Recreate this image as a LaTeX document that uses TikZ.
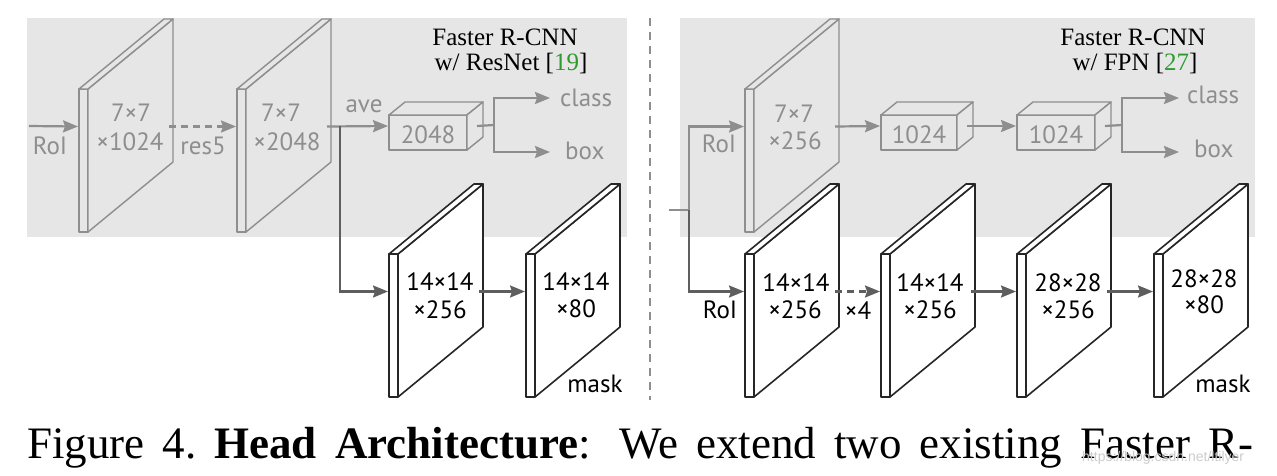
\documentclass[tikz,border=0pt]{standalone}
\usepackage{fontspec}
\setmainfont{Liberation Serif}
\newfontfamily\lblfont{PT Sans}
\newfontfamily\wmfont{Liberation Sans}
\usetikzlibrary{arrows.meta}
\definecolor{panel}{HTML}{E6E6E6}
\definecolor{lgray}{HTML}{8E8E8E}
\definecolor{dgray}{HTML}{5E5E5E}
\definecolor{citegreen}{HTML}{2E9A2E}
\definecolor{wmark}{HTML}{CCCCCC}
\tikzset{
  lbl/.style={font=\lblfont\fontsize{25}{25}\selectfont, inner sep=0pt, anchor=base},
  glbl/.style={lbl, text=lgray},
  klbl/.style={lbl, text=black},
  ttl/.style={font=\fontsize{25}{25}\selectfont, inner sep=0pt, anchor=base},
  gslab/.style={draw=lgray, line width=1.4pt, fill=panel, line join=round},
  wslab/.style={draw=black!85, line width=1.6pt, fill=white, line join=round},
  gbox/.style={draw=lgray, line width=1.4pt, fill=panel, line join=round},
  tip/.style={-{Stealth[length=15pt,width=12pt,inset=2pt]}},
  gline/.style={draw=lgray, line width=2.2pt},
  dline/.style={draw=dgray, line width=2.2pt},
  garrow/.style={gline, tip},
  darrow/.style={dline, tip},
  dash7/.style={dash pattern=on 7pt off 5pt},
  sepline/.style={draw=lgray, line width=1.3pt, dash pattern=on 8pt off 6pt},
}
\newcommand\slab[4]{%
  \path[#3] (#1,#2) rectangle ++(9,143);
  \path[#3] (#1+9,#2) -- ++(85,-70) -- ++(0,143) -- (#1+9,#2+143) -- cycle;
  \path[#3] (#1,#2) -- ++(85,-70) -- ++(9,0) -- (#1+9,#2) -- cycle;
  \coordinate (#4-in) at (#1-1,#2+37.5);
  \coordinate (#4-out) at (#1+90,#2+37.5);
}
\newcommand\cuboid[5]{%
  \path[gbox] (#1,#2) rectangle ++(#3,35);
  \path[gbox] (#1,#2) -- ++(16,-13) -- ++(#3,0) -- (#1+#3,#2) -- cycle;
  \path[gbox] (#1+#3,#2) -- ++(16,-13) -- ++(0,35) -- (#1+#3,#2+35) -- cycle;
  \node[glbl] (#5) at (#1+#3/2,#2+28) {#4};
  \coordinate (#5-in) at (#1-1,#2+11);
  \coordinate (#5-out) at (#1+#3+10,#2+11);
}
\begin{document}
\begin{tikzpicture}[x=1pt,y=-1pt]
\useasboundingbox (0,0) rectangle (1277,475);
% panels
\fill[panel] (27,18) rectangle (627,237);
\fill[panel] (680,18) rectangle (1255,237);
% separator
\coordinate (sepT) at (650,18);
\coordinate (sepB) at (650,400);
\draw[sepline] (sepT) -- (sepB);

% ---------------- left: ResNet ----------------
\node[ttl] (t1a) at (505,45) {Faster R-CNN};
\node[ttl] (t1b) at (511,70) {w/ ResNet [\textcolor{citegreen}{19}]};

\slab{79}{89}{gslab}{s1}
\slab{237}{89}{gslab}{s2}
\node[glbl] (s1a) at (131,121) {7×7};
\node[glbl] (s1b) at (130,150) {×1024};
\node[glbl] (s2a) at (281,121) {7×7};
\node[glbl] (s2b) at (287,150) {×2048};
\cuboid{389}{115}{78}{2048}{b1}

\slab{389}{254}{wslab}{m1}
\slab{526}{254}{wslab}{m2}
\node[klbl] (m1a) at (440,290) {14×14};
\node[klbl] (m1b) at (440,318) {×256};
\node[klbl] (m2a) at (576,290) {14×14};
\node[klbl] (m2b) at (576,317) {×80};
\node[klbl] (mk1) at (595,392) {mask};

\coordinate (roiL) at (29,126);
\node[glbl] (roiLt) at (50,154) {RoI};
\node[glbl] (res5) at (203,154) {res5};
\node[glbl] (ave) at (364,112) {ave};
\coordinate (sp1) at (340,126);
\coordinate (br1) at (494,125);
\coordinate (cls1) at (550,98);
\coordinate (box1) at (550,152);
\node[glbl, anchor=base west] (cls1t) at (560,106) {class};
\node[glbl, anchor=base west] (box1t) at (565,159) {box};

\draw[garrow] (roiL) -- (s1-in);
\draw[garrow, dash7] (s1-out) -- (s2-in);
\draw[garrow] (s2-out) -- (b1-in);
\draw[gline] (b1-out) -- (br1);
\draw[garrow] (br1) |- (cls1);
\draw[garrow] (br1) |- (box1);
\draw[darrow] (sp1) |- (m1-in);
\draw[darrow] (m1-out) -- (m2-in);

% ---------------- right: FPN ----------------
\node[ttl] (t2a) at (1133,45) {Faster R-CNN};
\node[ttl] (t2b) at (1135,70) {w/ FPN [\textcolor{citegreen}{27}]};

\slab{745}{89}{gslab}{s3}
\node[glbl] (s3a) at (794,122) {7×7};
\node[glbl] (s3b) at (795,149) {×256};
\cuboid{881}{115}{76}{1024}{b2}
\cuboid{1017}{115}{78}{1024}{b3}

\slab{745}{254}{wslab}{ma}
\slab{881}{254}{wslab}{mb}
\slab{1017}{254}{wslab}{mc}
\slab{1154}{254}{wslab}{md}
\node[klbl] (maa) at (796,291) {14×14};
\node[klbl] (mab) at (795,318) {×256};
\node[klbl] (mba) at (930,291) {14×14};
\node[klbl] (mbb) at (930,318) {×256};
\node[klbl] (mca) at (1068,291) {28×28};
\node[klbl] (mcb) at (1068,318) {×256};
\node[klbl] (mda) at (1204,287) {28×28};
\node[klbl] (mdb) at (1204,313) {×80};
\node[klbl] (mk2) at (1223,392) {mask};

\coordinate (rin) at (669,210);
\coordinate (rj) at (689,210);
\node[glbl] (roiRg) at (719,152) {RoI};
\node[klbl] (roiRk) at (720,318) {RoI};
\node[klbl] (x4) at (858,319) {×4};
\coordinate (br2) at (1122,125);
\coordinate (cls2) at (1179,98);
\coordinate (box2) at (1179,152);
\node[glbl, anchor=base west] (cls2t) at (1187,103) {class};
\node[glbl, anchor=base west] (box2t) at (1194,157) {box};

\draw[gline] (rin) -- (rj);
\draw[garrow] (rj) |- (s3-in);
\draw[darrow] (rj) |- (ma-in);
\draw[garrow] (s3-out) -- (b2-in);
\draw[garrow] (b2-out) -- (b3-in);
\draw[gline] (b3-out) -- (br2);
\draw[garrow] (br2) |- (cls2);
\draw[garrow] (br2) |- (box2);
\draw[darrow, dash7] (ma-out) -- (mb-in);
\draw[darrow] (mb-out) -- (mc-in);
\draw[darrow] (mc-out) -- (md-in);

% caption
\node[anchor=base west, inner sep=0pt, font=\fontsize{45}{45}\selectfont] (cap) at (27,458)
  {\makebox[1226pt][s]{Figure 4.\ \textbf{Head Architecture}: We extend two existing Faster R-}};
\node[anchor=base west, inner sep=0pt, text=wmark, font=\wmfont\fontsize{14}{14}\selectfont] (wm) at (1082,461) {https://blog.csdn.net/ltilyer};
\end{tikzpicture}
\end{document}
